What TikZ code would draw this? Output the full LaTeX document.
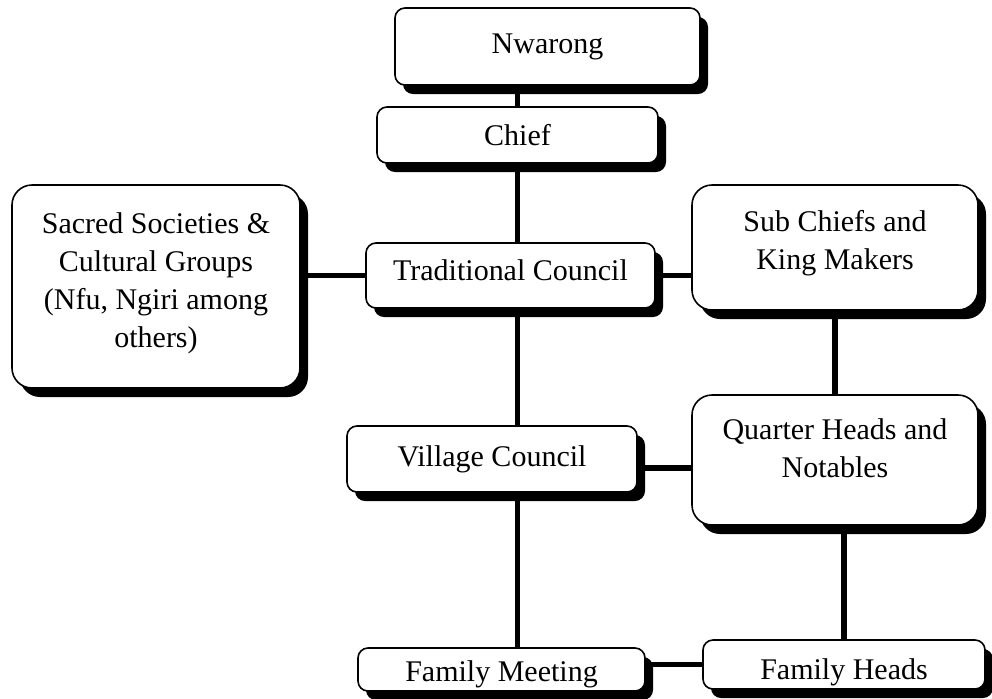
\documentclass[tikz,border=0pt]{standalone}
\usepackage{fontspec}
\setmainfont{Liberation Serif}
\usetikzlibrary{shadows,backgrounds}
\newcommand{\lifttext}[2]{\raisebox{#1}[\height][\depth]{\begin{tabular}{@{}c@{}}#2\end{tabular}}}
\tikzset{
  orgbox/.style={draw, thick, fill=white, rounded corners=5pt, align=center,
    font=\fontsize{15}{19}\selectfont,
    drop shadow={shadow xshift=4pt, shadow yshift=-4.5pt, fill=black, opacity=1}},
  bigbox/.style={orgbox, rounded corners=10pt},
  link/.style={line width=2.6pt, black}
}
\begin{document}
\begin{tikzpicture}[x=0.5pt, y=-0.5pt]
    \useasboundingbox (0,0) rectangle (992,698);
    % Riquadri in alto
    \node[orgbox, minimum width=152.5pt, minimum height=38.5pt] (nwarong) at (547.5,46.5) {Nwarong};
    \node[orgbox, minimum width=140.5pt, minimum height=28pt] (chief) at (517.5,135) {Chief};
    \node[orgbox, minimum width=144.5pt, minimum height=32.5pt] (trad) at (510.5,275.5) {\lifttext{1.5pt}{Traditional Council}};

    % Riquadri laterali
    \node[bigbox, minimum width=144pt, minimum height=101.5pt] (sacred) at (156,286.5) {\lifttext{2pt}{Sacred Societies \&\\Cultural Groups\\(Nfu, Ngiri among\\others)}};
    \node[bigbox, minimum width=143pt, minimum height=62.5pt] (subchiefs) at (835,247.5) {\lifttext{2.5pt}{Sub Chiefs and\\King Makers}};

    % Livello del villaggio
    \node[orgbox, minimum width=145pt, minimum height=33pt] (village) at (492,459) {Village Council};
    \node[bigbox, minimum width=143pt, minimum height=65pt] (quarter) at (835,460) {\lifttext{4.5pt}{Quarter Heads and\\Notables}};

    % Livello della famiglia
    \node[orgbox, inner ysep=0pt, minimum width=143.5pt, minimum height=21.5pt] (fammeet) at (501.5,669.5) {\lifttext{-2pt}{Family Meeting}};
    \node[orgbox, inner ysep=0pt, minimum width=141pt, minimum height=24.5pt] (famheads) at (844,664.5) {\lifttext{-3.5pt}{Family Heads}};

    % Collegamenti
    \begin{pgfonlayer}{background}
    \draw[link] (chief.north) -- (chief.north |- nwarong.south);
    \draw[link] (chief.south) -- (chief.south |- trad.north);
    \draw[link] (trad.west) -- (trad.west -| sacred.east);
    \draw[link] (trad.east) -- (trad.east -| subchiefs.west);
    \draw[link] (chief.south |- trad.south) -- (chief.south |- village.north);
    \draw[link] (subchiefs.south) -- (subchiefs.south |- quarter.north);
    \draw[link] ([yshift=-4.5pt]village.east) -- ([yshift=-4.5pt]village.east -| quarter.west);
    \draw[link] (chief.south |- village.south) -- (chief.south |- fammeet.north);
    \draw[link] (famheads.north) -- (famheads.north |- quarter.south);
    \draw[link] (famheads.west) -- (famheads.west -| fammeet.east);
    \end{pgfonlayer}
\end{tikzpicture}
\end{document}
